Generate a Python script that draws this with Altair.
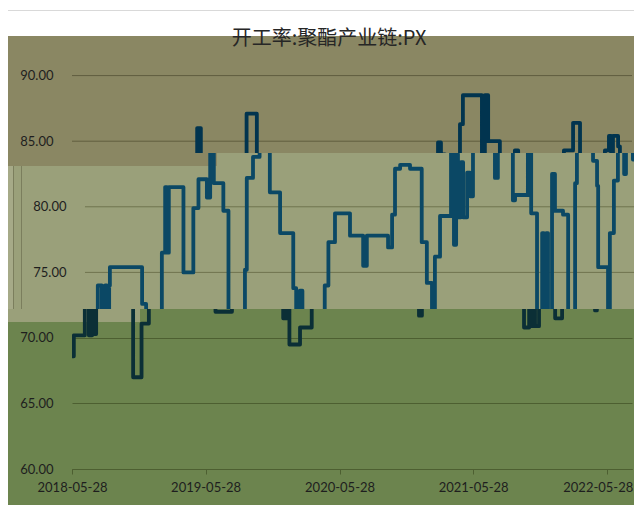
import altair as alt
import pandas as pd

# ---------------- data ----------------
dates = [
    "2018-05-28", "2018-06-02", "2018-07-02", "2018-07-13", "2018-07-22", "2018-07-27", "2018-08-02", "2018-08-04",
    "2018-10-31", "2018-11-11", "2018-12-04", "2018-12-24", "2019-01-02", "2019-01-07", "2019-01-12",
    "2019-02-21", "2019-03-20", "2019-04-03", "2019-04-26", "2019-05-05", "2019-05-15", "2019-06-10", "2019-06-24",
    "2019-08-08", "2019-08-13", "2019-08-30", "2019-09-17", "2019-10-15", "2019-11-12", "2019-12-18", "2019-12-26",
    "2020-01-05", "2020-01-12", "2020-02-10", "2020-03-13", "2020-03-23", "2020-04-10", "2020-05-21", "2020-06-26",
    "2020-07-06", "2020-09-02", "2020-09-13", "2020-09-21", "2020-10-05", "2020-11-01", "2020-12-03", "2020-12-17",
    "2020-12-31", "2021-01-08", "2021-01-22", "2021-02-21", "2021-03-01", "2021-03-07", "2021-03-12", "2021-03-20",
    "2021-03-26", "2021-04-06", "2021-04-14", "2021-04-22", "2021-04-30", "2021-06-21", "2021-06-29", "2021-07-08",
    "2021-08-09", "2021-08-15", "2021-09-19", "2021-09-28", "2021-10-14", "2021-10-28", "2021-11-02", "2021-11-08",
    "2021-11-13", "2021-11-24", "2021-12-02", "2021-12-24", "2022-01-07", "2022-01-26", "2022-01-31", "2022-02-25",
    "2022-03-16", "2022-03-27", "2022-03-30", "2022-04-26", "2022-05-01", "2022-05-12", "2022-05-23", "2022-06-03",
    "2022-06-09", "2022-06-14", "2022-06-28", "2022-07-03", "2022-07-22", "2022-08-05",
]
values = [
    68.6, 70.2, 74.0, 70.2, 74.0, 70.3, 74.0, 75.4,
    72.6, 67.0, 71.1, 76.5, 81.5, 76.5, 81.5,
    75.0, 79.9, 82.1, 80.7, 86.0, 81.8, 79.7, 72.0,
    75.2, 82.2, 83.8, 87.1, 81.1, 78.0, 73.8, 71.5,
    73.6, 69.5, 70.8, 74.0, 77.3, 79.5, 77.8, 75.5,
    77.8, 76.9, 79.4, 82.9, 83.2, 82.9, 77.3, 74.2,
    71.7, 76.2, 79.3, 84.9, 77.1, 84.0, 79.2, 83.4,
    79.2, 82.6, 80.8, 86.3, 88.5, 82.2, 88.5, 85.0,
    80.5, 80.9, 84.3, 79.5, 70.8, 78.0, 70.9, 78.0,
    70.9, 82.5, 79.7, 79.4, 71.5, 81.8, 84.3, 86.4,
    83.5, 81.6, 75.4, 72.1, 78.0, 82.0, 84.3, 85.4,
    82.5, 85.4, 84.6, 83.6, 79.4, 79.4,
]
title_text = "开工率:聚酯产业链:PX"
top_ticks = [90, 85]
mid_ticks = [80, 75]
low_ticks = [70, 65, 60]
x_ticks = ["2018-05-28", "2019-05-28", "2020-05-28", "2021-05-28", "2022-05-28"]
x_first, x_last = "2018-05-28", "2022-08-05"

df = pd.DataFrame({"date": dates, "value": values})

# ---------------- styling ----------------
FONT = "Lato"
TOP_C, MID_C, LOW_C = "#8a8763", "#9aa07a", "#6c844e"
GRID_TOP, GRID_MID, GRID_LOW = "#605d3f", "#70744f", "#4d5f31"
LINE_TOP, LINE_MID, LINE_LOW = "#01344f", "#0b4865", "#0b2f36"
TXT = "#1e1e1e"
W, W_MID = 560, 570
H_TOP, H_MID, H_LOW = 145, 156, 160
WHITE_H = 28
RIGHT = 570


def dt(s, h=0):
    y, m, d = (int(p) for p in s.split("-"))
    return alt.DateTime(year=y, month=m, date=d, hours=h, utc=True)


XDOM = [dt("2018-05-28"), dt("2022-08-05")]
XDOM_MID = [dt("2018-04-22", 12), dt("2022-07-27", 19)]  # glitch: band drawn 13px to the right
YDOM_TOP = [84.1, 95.15]
YDOM_MID = [72.21, 84.1]
YDOM_LOW = [60, 72.21]

one = pd.DataFrame({"a": [0]})


def box(color, x0, x1, y0, y1, opacity=1.0):
    return alt.Chart(one).mark_rect(color=color, opacity=opacity).encode(
        x=alt.value(x0), x2=alt.value(x1), y=alt.value(y0), y2=alt.value(y1)
    )


def yaxis(ticks, offset=0, grid=False, gcol=None):
    kw = dict(values=ticks, format=".2f", ticks=False, domain=False, labelPadding=19,
              labelFont=FONT, labelFontSize=13, labelColor=TXT, title=None, zindex=1,
              offset=offset, grid=grid)
    if grid:
        kw["gridColor"] = gcol
        kw["zindex"] = 0
    return alt.Axis(**kw)


def grid_rules(ticks, xdom, ydom, color, yax):
    g = pd.DataFrame({"v": ticks, "x0": [x_first] * len(ticks), "x1": [x_last] * len(ticks)})
    return alt.Chart(g).mark_rule(color=color, strokeWidth=1, clip=True).encode(
        x=alt.X("x0:T", scale=alt.Scale(type="utc", domain=xdom), axis=None),
        x2="x1:T",
        y=alt.Y("v:Q", scale=alt.Scale(domain=ydom, nice=False, zero=False), axis=yax),
    )


def line(xdom, ydom, color, xaxis=None, yax=None):
    return alt.Chart(df).mark_line(
        interpolate="step-after", clip=True, color=color, strokeWidth=3.8,
        strokeJoin="round", strokeCap="round"
    ).encode(
        x=alt.X("date:T", scale=alt.Scale(type="utc", domain=xdom), axis=xaxis),
        y=alt.Y("value:Q", scale=alt.Scale(domain=ydom, nice=False, zero=False), axis=yax),
    )


# ---------------- top band (white title strip + olive band) ----------------
title_mark = alt.Chart(pd.DataFrame({"t": [title_text]})).mark_text(
    font="Noto Sans CJK SC", fontSize=20, color="#262626", align="center", baseline="middle"
).encode(text="t:N", x=alt.value(257), y=alt.value(WHITE_H + 3))

ax_top = yaxis(top_ticks)
top = alt.layer(
    box(TOP_C, -64, RIGHT, 0, H_TOP),
    box("#ffffff", -64, RIGHT, 0, WHITE_H),
    box("#d9d9d9", -64, RIGHT, 2, 3),
    grid_rules(top_ticks, XDOM, YDOM_TOP, GRID_TOP, ax_top),
    line(XDOM, YDOM_TOP, LINE_TOP, yax=ax_top),
    title_mark,
).properties(width=W, height=H_TOP)

# ---------------- middle band (shifted) ----------------
ax_mid = yaxis(mid_ticks, offset=-13)
mid = alt.layer(
    box(MID_C, -64, RIGHT, 0, H_MID),
    box("#a6aa88", -64, -59, 13, H_MID),
    box("#7b7e5d", -59, -58, 13, H_MID),
    box("#7b7e5d", -51, -50, 13, H_MID),
    box(TOP_C, -64, 145, 0, 13),
    grid_rules(mid_ticks, XDOM_MID, YDOM_MID, GRID_MID, ax_mid),
    line(XDOM_MID, YDOM_MID, LINE_MID, yax=ax_mid),
).properties(width=W_MID, height=H_MID)

# ---------------- lower band ----------------
xax = alt.Axis(values=[dt(s) for s in x_ticks],
               labelExpr="utcFormat(datum.value, '%Y-%m-%d')",
               labelOffset={"condition": {"test": "datum.value > 1640995200000", "value": -9},
                            "value": 0},
               labelFont=FONT, labelFontSize=13, labelColor=TXT, tickColor=GRID_LOW,
               domainColor=GRID_LOW, tickSize=5, labelPadding=7, grid=False, title=None,
               labelFlush=False, labelOverlap=False)

low = alt.layer(
    box(LOW_C, -64, RIGHT, 0, 196, opacity=0),
    box(MID_C, -64, 68, 0, 13),
    line(XDOM, YDOM_LOW, LINE_LOW, xaxis=xax, yax=yaxis(low_ticks, grid=True, gcol=GRID_LOW)),
).properties(width=W, height=H_LOW)

# svg kept at 626px wide so the page does not shrink it
chart = alt.vconcat(top, mid, low, spacing=0).properties(
    padding={"left": 0, "top": 0, "right": -8, "bottom": 0}, background=LOW_C
).configure_view(stroke=None)

chart.save("out.html", embed_options={"renderer": "svg", "actions": False})
